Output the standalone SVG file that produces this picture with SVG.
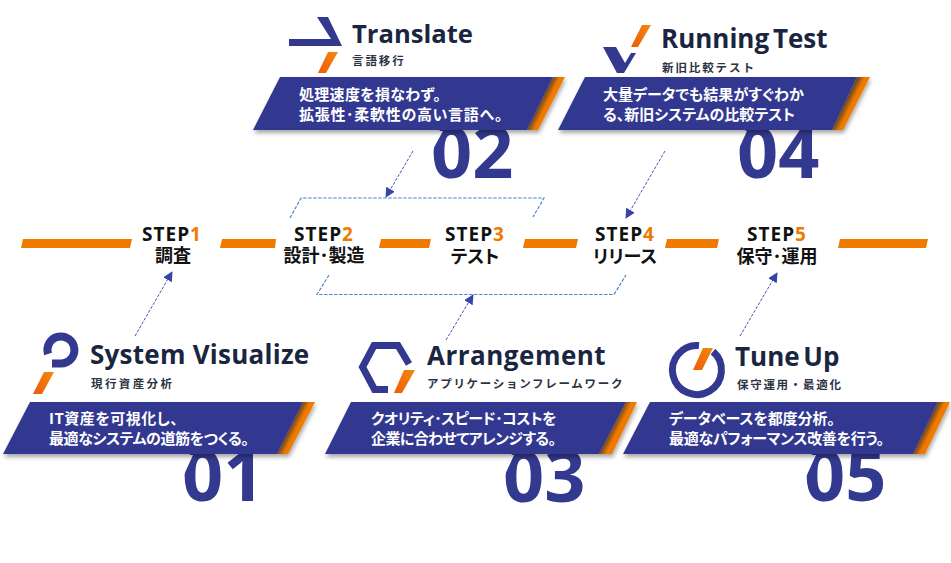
<svg xmlns="http://www.w3.org/2000/svg" width="951" height="563" viewBox="0 0 951 563">
<style>
text{font-family:"Noto Sans CJK JP","Noto Sans",sans-serif}
.title{font-family:"Open Sans","Noto Sans",sans-serif;font-weight:700;font-size:26px;fill:#1a2540;word-spacing:-3px}
.sub{font-weight:700;font-size:11.5px;fill:#2b3445;letter-spacing:1.9px}
.body{font-weight:700;font-size:15px;fill:#fff;font-feature-settings:"palt"}
.num{font-family:"Open Sans","Noto Sans",sans-serif;font-weight:700;font-size:72px;fill:#32398f}
.step{font-family:"Open Sans","Noto Sans",sans-serif;font-weight:700;font-size:19px;fill:#111;text-anchor:middle;letter-spacing:1px}
.step tspan{fill:#f07a00}
.jp{font-weight:700;font-size:18px;fill:#111;text-anchor:middle}
.palt{font-feature-settings:"palt"}
.blue{fill:#32398f}
.bar{fill:#f07a00}
.or{fill:url(#og)}
.strip{fill:url(#sd)}
.ban{filter:url(#sh)}
.dash{fill:none;stroke:#4f86c6;stroke-width:1.2;stroke-dasharray:3.500 1.500}
.arr{fill:none;stroke:#4a52b0;stroke-width:1;stroke-dasharray:3 1.500;marker-end:url(#ah)}
.ring{fill:none;stroke:#32398f}
</style>
<defs>
<linearGradient id="og" x1="1" y1="0" x2="0" y2="1"><stop offset="0" stop-color="#f08a10"/><stop offset="1" stop-color="#ee5a06"/></linearGradient>
<linearGradient id="sd" x1="0" y1="1" x2=".215" y2="1.147"><stop offset="0" stop-color="#6e4620"/><stop offset=".6" stop-color="#f07a00"/></linearGradient>
<filter id="sh" x="-5%" y="-10%" width="110%" height="130%"><feDropShadow dx="1" dy="3" stdDeviation="2" flood-color="#000" flood-opacity=".35"/></filter>
<marker id="ah" viewBox="0 0 10 10" refX="9" refY="5" markerWidth="10" markerHeight="10" markerUnits="userSpaceOnUse" orient="auto"><path d="M0 0L10 5L0 10Z" fill="#3a43a8"/></marker>
</defs>

<g id="timeline-bars">
<polygon class="bar" points="23,239 132,239 130,248 21,248"/>
<polygon class="bar" points="222,239 276,239 275,248 220,248"/>
<polygon class="bar" points="381,239 431,239 429,248 379,248"/>
<polygon class="bar" points="525,239 578,239 576,248 523,248"/>
<polygon class="bar" points="667,239 719,239 717,248 665,248"/>
<polygon class="bar" points="840,239 928,239 926,248 838,248"/>
</g>

<g id="connectors">
<polyline class="dash" points="290,218 301,198 544,198 533,217"/>
<polyline class="dash" points="329,275 317,294.500 614,294.500 626,275"/>
<line class="arr" x1="413" y1="151" x2="386" y2="197"/>
<line class="arr" x1="665" y1="151" x2="626" y2="218"/>
<line class="arr" x1="135" y1="336" x2="172" y2="272"/>
<line class="arr" x1="446" y1="340" x2="473" y2="295"/>
<line class="arr" x1="740" y1="336" x2="777" y2="273"/>
</g>

<g id="step1"><text class="step" x="172" y="241">STEP<tspan>1</tspan></text><text class="jp" x="173" y="262">調査</text></g>
<g id="step2"><text class="step" x="324" y="241">STEP<tspan>2</tspan></text><text class="jp" x="324" y="262">設計･製造</text></g>
<g id="step3"><text class="step" x="475" y="241">STEP<tspan>3</tspan></text><text class="jp palt" x="475" y="263">テスト</text></g>
<g id="step4"><text class="step" x="625" y="241">STEP<tspan>4</tspan></text><text class="jp palt" x="625" y="263">リリース</text></g>
<g id="step5"><text class="step" x="777" y="241">STEP<tspan>5</tspan></text><text class="jp" x="777" y="263">保守･運用</text></g>

<g id="card-translate">
<text class="num" x="431" y="178">02</text>
<polygon fill="#fff" points="428,131 443,131 431,153 428,153"/>
<g class="ban"><polygon class="strip" points="553,77 565,77 538,130 527,130"/><polygon class="blue" points="280,77 553,77 527,130 253,130"/></g>
<polygon class="blue" points="289,39 331,39 317,17 328,17 342,46 289,46"/>
<polygon class="or" points="328,52 338,52 326,73 318,73"/>
<text class="title" x="352" y="43" style="font-size:25.600px">Translate</text>
<text class="sub" x="352" y="65">言語移行</text>
<text class="body" x="299" y="100" style="letter-spacing:.3px">処理速度を損なわず。</text>
<text class="body" x="299" y="120" style="letter-spacing:.7px">拡張性･柔軟性の高い言語へ。</text>
</g>

<g id="card-running">
<text class="num" x="737" y="178">04</text>
<polygon fill="#fff" points="734,131 747,131 737,153 734,153"/>
<g class="ban"><polygon class="strip" points="857,77 870,77 843,130 832,130"/><polygon class="blue" points="585,77 857,77 832,130 558,130"/></g>
<polygon class="blue" points="603,47 616,47 625,63 631,53 636,53 624,73 617,73"/>
<polygon class="or" points="642,25 651,25 638,47 631,47"/>
<text class="title" x="661" y="48">Running Test</text>
<text class="sub" x="662" y="72">新旧比較テスト</text>
<text class="body" x="603" y="100">大量データでも結果がすぐわか</text>
<text class="body" x="603" y="120">る、新旧システムの比較テスト</text>
</g>

<g id="card-visualize">
<text class="num" x="182" y="501">01</text>
<polygon fill="#fff" points="178,455 193,455 183,477 178,477"/>
<g class="ban"><polygon class="strip" points="303,402 315,402 288,454 277,454"/><polygon class="blue" points="30,402 303,402 277,454 3,454"/></g>
<path class="ring" d="M48 354A13.500 13.500 0 1 1 61 363.500H52" stroke-width="8"/>
<polygon class="or" points="44,372 54,372 42,394 33,394"/>
<text class="title" x="90" y="364" style="word-spacing:0;letter-spacing:.25px">System Visualize</text>
<text class="sub" x="91" y="388" style="letter-spacing:2.400px">現行資産分析</text>
<text class="body" x="49" y="424" style="letter-spacing:.5px">IT資産を可視化し、</text>
<text class="body" x="49" y="444" style="letter-spacing:-.4px">最適なシステムの道筋をつくる。</text>
</g>

<g id="card-arrangement">
<text class="num" x="503" y="502">03</text>
<polygon fill="#fff" points="500,455 514,455 504,477 500,477"/>
<g class="ban"><polygon class="strip" points="626,402 637,402 612,454 599,454"/><polygon class="blue" points="351,402 626,402 599,454 325,454"/></g>
<path class="ring" d="M388 389.500H374.500L362.500 367L374 345.500H398L409 364" stroke-width="7"/>
<polygon class="or" points="404,370 415,370 402,393 394,393"/>
<text class="title" x="427" y="365" style="letter-spacing:.5px">Arrangement</text>
<text class="sub" x="427" y="388" style="letter-spacing:1.700px">アプリケーションフレームワーク</text>
<text class="body" x="371" y="424" style="letter-spacing:-.5px">クオリティ･スピード･コストを</text>
<text class="body" x="371" y="444" style="letter-spacing:-.6px">企業に合わせてアレンジする。</text>
</g>

<g id="card-tuneup">
<text class="num" x="804" y="501">05</text>
<polygon fill="#fff" points="801,455 816,455 806,477 801,477"/>
<g class="ban"><polygon class="strip" points="938,402 950,402 925,454 913,454"/><polygon class="blue" points="650,402 938,402 913,454 623,454"/></g>
<path class="ring" d="M699 345.600A24.500 24.500 0 1 0 713 351.500" stroke-width="7"/>
<polygon class="or" points="703,348 713,348 702,370 693,370"/>
<text class="title" x="735" y="366">Tune Up</text>
<text class="sub" x="737" y="389" style="letter-spacing:1.700px">保守運用・最適化</text>
<text class="body" x="669" y="424" style="letter-spacing:-.1px">データベースを都度分析。</text>
<text class="body" x="669" y="444" style="letter-spacing:-.3px">最適なパフォーマンス改善を行う。</text>
</g>
</svg>
